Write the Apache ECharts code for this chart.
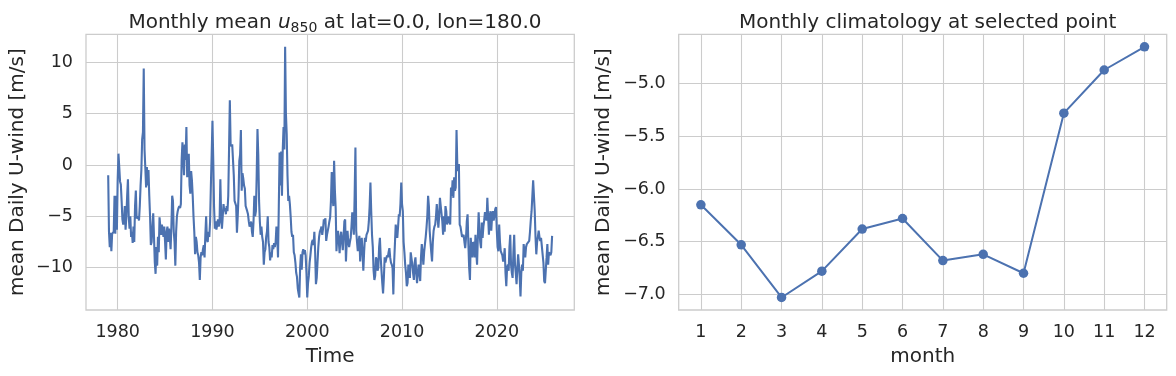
<!DOCTYPE html>
<html>
<head>
<meta charset="utf-8">
<script src="https://cdn.jsdelivr.net/npm/echarts@6/dist/echarts.min.js"></script>
<style>
html,body{margin:0;padding:0;background:#fff;}
#c{width:1176px;height:376px;}
</style>
</head>
<body>
<div id="c"></div>
<script>
// ---- data (monthly mean u850, starting Jan 1979) ----
const startYear = 1979;
const u1979_1988 = [
 -1.0,-6.5,-8.0,-6.6,-8.4,-6.7,-6.8,-6.5,-3.0,-6.7,-3.0,-6.3,
 -1.5,1.1,-0.2,-1.6,-1.9,-3.5,-5.3,-5.8,-5.5,-4.0,-6.3,-5.0,
 -3.0,-1.4,-5.0,-6.2,-5.0,-7.0,-6.5,-7.6,-6.0,-7.5,-4.0,-2.5,
 -5.2,-5.3,-5.0,-5.4,-4.0,-2.0,-0.5,2.5,3.2,9.4,1.5,-0.3,
 -2.2,-0.2,-2.0,-0.5,-3.0,-5.0,-7.8,-7.5,-6.0,-4.7,-7.0,-9.5,
 -10.6,-8.0,-9.8,-7.0,-8.5,-5.1,-6.0,-6.8,-5.8,-6.4,-7.0,-6.0,
 -7.5,-9.2,-6.5,-6.0,-7.5,-6.2,-7.0,-8.2,-6.0,-3.0,-3.5,-6.5,
 -7.5,-9.8,-6.5,-5.0,-4.5,-4.2,-4.0,-4.2,-3.8,0.5,2.2,0.7,
 -1.0,2.0,0.5,3.7,-1.2,0.5,1.1,-2.0,-2.8,-0.6,-1.5,-3.0,
 -5.0,-6.5,-8.7,-7.0,-7.5,-8.5,-8.8,-9.5,-11.2,-9.0,-8.5,-8.8
];
const u1989_1998 = [
 -8.2,-7.8,-9.0,-6.8,-5.0,-7.3,-7.5,-6.5,-7.0,-5.5,-2.0,1.0,
 4.3,0.5,-4.0,-6.2,-5.5,-6.3,-5.8,-5.3,-6.0,-5.5,-1.4,-5.0,
 -6.2,-5.0,-3.8,-4.5,-4.2,-4.8,-4.0,-4.5,-3.0,1.5,6.3,2.0,
 1.8,2.0,0.5,-1.0,-3.5,-3.5,-4.0,-6.6,-5.0,-3.0,0.4,1.0,
 3.4,-2.5,-0.8,-1.3,-2.0,-2.3,-4.0,-4.0,-4.5,-4.8,-5.5,-6.0,
 -5.8,-5.5,-6.5,-7.0,-5.5,-3.0,-5.0,-4.5,-1.0,3.5,1.0,-3.5,
 -5.5,-6.8,-6.0,-7.0,-7.5,-9.7,-8.5,-8.2,-7.0,-6.5,-5.0,-7.5,
 -8.0,-9.3,-8.5,-9.0,-7.8,-8.2,-7.6,-8.0,-7.5,-6.0,-7.0,-9.0,
 -4.0,1.2,-2.0,1.3,-3.0,1.5,3.7,1.5,11.5,5.0,3.0,-1.0,
 -3.5,-3.0,-3.8,-5.0,-6.5,-7.0,-6.8,-8.5,-8.8,-9.5,-10.5,-10.9
];
const u1999_2008 = [
 -12.0,-12.5,-12.9,-10.0,-8.7,-10.2,-8.5,-8.2,-8.7,-8.3,-8.8,-10.5,
 -12.9,-11.5,-10.8,-9.5,-8.8,-8.0,-7.5,-7.3,-7.8,-6.5,-8.5,-11.6,
 -11.0,-9.5,-8.0,-7.0,-6.5,-6.3,-6.0,-6.8,-6.2,-5.3,-5.5,-5.2,
 -7.4,-6.8,-6.4,-6.0,-5.5,-5.1,-3.5,-0.7,-3.0,-4.0,0.4,-2.5,
 -4.2,-8.4,-7.0,-6.4,-7.5,-8.6,-7.0,-6.5,-7.5,-8.3,-7.0,-5.5,
 -5.3,-9.4,-7.5,-6.4,-7.5,-8.0,-7.5,-7.1,-6.0,-4.6,-5.5,-6.8,
 -3.0,1.7,-6.4,-7.5,-8.4,-7.5,-6.9,-9.4,-8.0,-7.1,-8.5,-10.3,
 -8.5,-7.1,-7.5,-6.8,-6.6,-6.4,-5.5,-4.0,-1.7,-4.5,-6.8,-8.0,
 -10.3,-11.2,-10.8,-9.0,-9.2,-10.3,-10.0,-8.0,-7.1,-9.0,-10.3,-11.5,
 -12.5,-11.0,-9.0,-9.5,-9.4,-8.8,-9.0,-8.5,-8.1,-9.0,-9.5,-9.7
];
const u2009_2018 = [
 -10.0,-12.6,-9.5,-7.7,-5.8,-6.5,-7.1,-6.0,-4.8,-5.0,-3.8,-1.7,
 -3.8,-4.5,-7.5,-8.5,-9.7,-10.5,-11.8,-11.5,-9.7,-10.5,-11.0,-8.5,
 -8.5,-9.7,-10.5,-11.2,-9.5,-9.0,-10.5,-11.5,-10.5,-9.7,-10.5,-11.3,
 -9.0,-7.7,-8.5,-9.7,-8.5,-7.7,-7.0,-6.1,-5.0,-3.0,-4.0,-6.4,
 -7.5,-8.5,-9.4,-7.5,-6.4,-6.0,-5.8,-5.0,-3.8,-5.0,-6.1,-5.0,
 -3.2,-4.0,-4.1,-5.5,-6.8,-5.0,-6.5,-4.0,-4.5,-5.8,-5.5,-5.0,
 -5.5,-5.8,-2.2,-3.0,-1.5,-3.2,-1.2,-2.5,-2.2,3.4,0.0,-0.6,
 0.1,-5.8,-6.0,-6.1,-7.0,-7.1,-6.8,-7.5,-8.1,-7.1,-5.5,-4.8,
 -7.7,-10.0,-11.2,-7.1,-8.5,-9.0,-7.5,-7.7,-9.0,-6.8,-8.5,-9.7,
 -7.0,-4.6,-6.4,-7.5,-8.1,-5.6,-7.1,-6.0,-5.4,-4.6,-5.0,-5.4
];
const u2019_2025 = [
 -3.2,-5.0,-6.8,-5.0,-4.5,-6.4,-5.0,-4.5,-5.4,-5.0,-4.3,-4.1,
 -6.4,-8.0,-8.4,-5.8,-7.5,-8.4,-8.4,-8.8,-9.4,-9.0,-8.1,-10.5,
 -11.8,-10.0,-9.7,-10.3,-8.0,-6.8,-9.7,-10.5,-11.0,-8.5,-6.8,-9.7,
 -10.5,-11.6,-10.0,-8.7,-9.7,-11.0,-12.8,-10.5,-9.7,-10.3,-7.7,-8.5,
 -9.0,-8.0,-7.7,-7.7,-7.6,-7.4,-6.5,-5.4,-4.5,-3.0,-1.5,-1.5,
 -4.5,-7.0,-8.7,-7.5,-7.0,-6.4,-7.0,-7.4,-7.1,-7.0,-7.1,-9.5,
 -11.3,-11.5,-11.6,-9.0,-7.7,-9.7,-8.5,-8.4,-8.8,-8.5,-6.9
];
const yearTicks = [1980, 1990, 2000, 2010, 2020];
const leftYTicks = [-10, -5, 0, 5, 10];

const months = [1,2,3,4,5,6,7,8,9,10,11,12];
const climatology = [-6.15,-6.53,-7.03,-6.78,-6.38,-6.28,-6.68,-6.62,-6.80,-5.28,-4.87,-4.65];
const rightYTicks = [-7.0, -6.5, -6.0, -5.5, -5.0];

// ---- build ----
const monthly = [].concat(u1979_1988, u1989_1998, u1999_2008, u2009_2018, u2019_2025);
const series1 = monthly.map((v, i) => [startYear + i / 12, v]);
function pad(lo, hi) { const d = hi - lo; return [lo - 0.05 * d, hi + 0.05 * d]; }
const xr1 = pad(series1[0][0], series1[series1.length - 1][0]);
const yr1 = pad(Math.min(...monthly), Math.max(...monthly));
const xr2 = pad(1, 12);
const yr2 = pad(Math.min(...climatology), Math.max(...climatology));

const TXT = '#262626', GRID = '#cccccc', BLUE = '#4c72b0';
const FONT = 'DejaVu Sans';
const TICK = 17.5, LAB = 20;
const minus = s => String(s).replace('-', '\u2212');

function axisCommon(vals, fmt, margin) {
  return {
    axisLine: { show: false },
    axisTick: { show: false, customValues: vals },
    axisLabel: { customValues: vals, formatter: fmt, color: TXT, fontSize: TICK, fontFamily: FONT, margin: margin },
    splitLine: { show: true, lineStyle: { color: GRID, width: 1.1 } }
  };
}

const chart = echarts.init(document.getElementById('c'), null, { renderer: 'canvas' });
chart.setOption({
  animation: false,
  backgroundColor: '#ffffff',
  textStyle: { fontFamily: FONT },
  title: [
    { text: 'Monthly mean {i|u}{s|850} at lat=0.0, lon=180.0', left: 330, top: 6, textAlign: 'center',
      textStyle: { fontSize: LAB, fontWeight: 'normal', color: TXT, fontFamily: FONT, lineHeight: 24,
        rich: {
          i: { fontSize: LAB, fontStyle: 'italic', color: TXT, fontFamily: FONT, lineHeight: 24 },
          s: { fontSize: 14, color: TXT, fontFamily: FONT, lineHeight: 14, padding: [13, 0, 0, 0], verticalAlign: 'bottom' }
        } } },
    { text: 'Monthly climatology at selected point', left: 922.7, top: 8, textAlign: 'center',
      textStyle: { fontSize: LAB, fontWeight: 'normal', color: TXT, fontFamily: FONT } }
  ],
  grid: [
    { left: 86, top: 34.3, width: 488.3, height: 275.7, show: true, borderColor: GRID, borderWidth: 1.3, backgroundColor: '#fff', containLabel: false },
    { left: 678.7, top: 34.3, width: 488, height: 275.7, show: true, borderColor: GRID, borderWidth: 1.3, backgroundColor: '#fff', containLabel: false }
  ],
  xAxis: [
    Object.assign({ type: 'value', gridIndex: 0, min: xr1[0], max: xr1[1],
      name: 'Time', nameLocation: 'middle', nameGap: 37,
      nameTextStyle: { fontSize: LAB, color: TXT, fontFamily: FONT } },
      axisCommon(yearTicks, v => String(Math.round(v)), 13)),
    Object.assign({ type: 'value', gridIndex: 1, min: xr2[0], max: xr2[1],
      name: 'month', nameLocation: 'middle', nameGap: 37,
      nameTextStyle: { fontSize: LAB, color: TXT, fontFamily: FONT } },
      axisCommon(months, v => String(Math.round(v)), 13))
  ],
  yAxis: [
    Object.assign({ type: 'value', gridIndex: 0, min: yr1[0], max: yr1[1],
      name: 'mean Daily U-wind [m/s]', nameLocation: 'middle', nameGap: 58, nameRotate: 90,
      nameTextStyle: { fontSize: LAB, color: TXT, fontFamily: FONT } },
      axisCommon(leftYTicks, v => minus(Math.round(v)), 13)),
    Object.assign({ type: 'value', gridIndex: 1, min: yr2[0], max: yr2[1],
      name: 'mean Daily U-wind [m/s]', nameLocation: 'middle', nameGap: 65, nameRotate: 90,
      nameTextStyle: { fontSize: LAB, color: TXT, fontFamily: FONT } },
      axisCommon(rightYTicks, v => minus(v.toFixed(1)), 13))
  ],
  series: [
    { type: 'line', xAxisIndex: 0, yAxisIndex: 0, data: series1, showSymbol: false, symbol: 'none',
      lineStyle: { color: BLUE, width: 2.1 }, itemStyle: { color: BLUE } },
    { type: 'line', xAxisIndex: 1, yAxisIndex: 1, data: months.map((m, i) => [m, climatology[i]]),
      symbol: 'circle', symbolSize: 9.5, showSymbol: true,
      lineStyle: { color: BLUE, width: 2 }, itemStyle: { color: BLUE } }
  ]
});
</script>
</body>
</html>
